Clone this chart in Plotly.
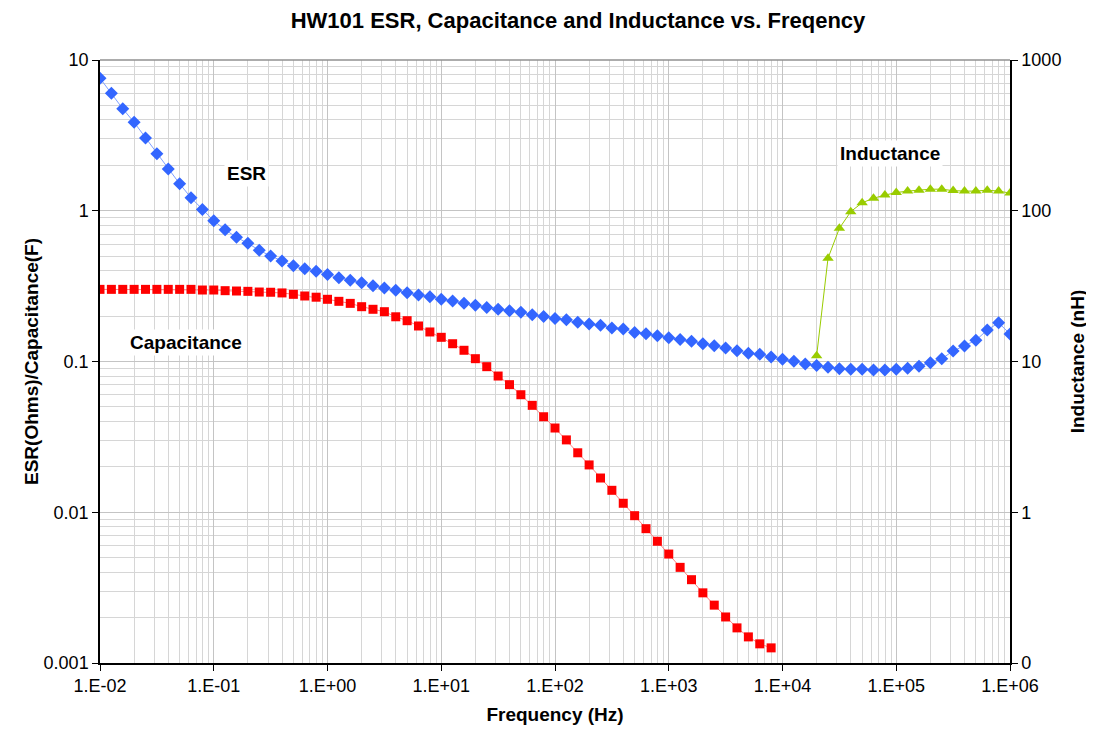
import numpy as np
import plotly.graph_objects as go

# Frequencies: 10 points per decade from 1e-2 to 1e6
freq_exp = [k / 10 for k in range(-20, 61)]
freq = [10 ** e for e in freq_exp]

esr = [7.57, 6.01, 4.75, 3.86, 3.04, 2.39, 1.89, 1.51, 1.22, 1.02,
       0.859, 0.748, 0.667, 0.608, 0.547, 0.501, 0.464, 0.432, 0.413, 0.397,
       0.377, 0.360, 0.346, 0.333, 0.318, 0.307, 0.297, 0.286, 0.276, 0.269,
       0.259, 0.252, 0.243, 0.236, 0.228, 0.222, 0.217, 0.212, 0.204, 0.199,
       0.193, 0.189, 0.182, 0.177, 0.174, 0.167, 0.164, 0.156, 0.153, 0.148,
       0.144, 0.140, 0.136, 0.131, 0.127, 0.123, 0.118, 0.1133, 0.1116, 0.1071,
       0.1035, 0.1003, 0.0963, 0.0939, 0.0916, 0.0896, 0.0888, 0.0888, 0.0879, 0.0879,
       0.0888, 0.0901, 0.0929, 0.0982, 0.1044, 0.1174, 0.1267, 0.1383, 0.1618, 0.1807,
       0.1521]

capacitance = [0.301, 0.301, 0.301, 0.301, 0.301, 0.301, 0.301, 0.301, 0.301, 0.298,
               0.298, 0.295, 0.2935, 0.292, 0.289, 0.288, 0.285, 0.279, 0.272, 0.267,
               0.2586, 0.2507, 0.243, 0.231, 0.222, 0.214, 0.198, 0.1865, 0.172, 0.157,
               0.1447, 0.1312, 0.1187, 0.1044, 0.0924, 0.0801, 0.0702, 0.0602, 0.0512, 0.0430,
               0.0362, 0.0302, 0.0248, 0.0206, 0.01687, 0.01398, 0.01147, 0.00949, 0.00778, 0.00642,
               0.00528, 0.00431, 0.00357, 0.00292, 0.00242, 0.00202, 0.00171, 0.00149, 0.00134, 0.00126]

inductance = [10.9, 48.4, 76.5, 98.6, 113, 121, 127, 132, 135, 137,
              139, 139, 136, 135, 135, 137, 135, 131]

freq_cap = freq[:len(capacitance)]
freq_ind = freq[-len(inductance):]

x_tickvals = [1e-2, 1e-1, 1e0, 1e1, 1e2, 1e3, 1e4, 1e5, 1e6]
x_ticktext = ["1.E-02", "1.E-01", "1.E+00", "1.E+01", "1.E+02", "1.E+03", "1.E+04", "1.E+05", "1.E+06"]
y_tickvals = [0.001, 0.01, 0.1, 1, 10]
y_ticktext = ["0.001", "0.01", "0.1", "1", "10"]
y2_tickvals = [0.1, 1, 10, 100, 1000]
y2_ticktext = ["0", "1", "10", "100", "1000"]

FONT = "Liberation Sans, Arial, sans-serif"

W, H = 1086, 723  # page body has an 8px margin

fig = go.Figure()
fig.add_trace(go.Scatter(
    x=freq, y=esr, mode="lines+markers", name="ESR",
    line=dict(color="#7f9fff", width=1),
    marker=dict(symbol="diamond", size=10, color="#3366ff", line=dict(width=0)),
))
fig.add_trace(go.Scatter(
    x=freq_cap, y=capacitance, mode="lines+markers", name="Capacitance",
    line=dict(color="#ff8080", width=1),
    marker=dict(symbol="square", size=9, color="#ff0000", line=dict(width=0)),
))
fig.add_trace(go.Scatter(
    x=freq_ind, y=inductance, mode="lines+markers", name="Inductance",
    yaxis="y2",
    line=dict(color="#99cc00", width=1),
    marker=dict(symbol="triangle-up", size=10, color="#99cc00", line=dict(width=0)),
))

grid_major = "#c4c4c4"
grid_minor = "#d6d6d6"

fig.update_layout(
    width=W, height=H,
    margin=dict(l=92, r=84, t=52, b=68),
    paper_bgcolor="white", plot_bgcolor="white",
    showlegend=False,
    font=dict(family=FONT, color="black"),
    title=dict(text="<b>HW101 ESR, Capacitance and Inductance vs. Freqency</b>",
               x=570 / W, xanchor="center", y=1 - 12 / H, yanchor="middle",
               font=dict(size=22, family=FONT)),
    xaxis=dict(
        type="log", range=[-2, 6], automargin=False,
        tickvals=x_tickvals, ticktext=x_ticktext,
        tickfont=dict(size=18), ticks="outside", ticklen=6, tickcolor="black",
        showline=True, linecolor="black", linewidth=1.5,
        showgrid=True, gridcolor=grid_major, gridwidth=1,
        minor=dict(dtick="D1", showgrid=True, gridcolor=grid_minor, gridwidth=1, ticks=""),
        zeroline=False,
        title=dict(text="<b>Frequency (Hz)</b>", font=dict(size=19), standoff=12),
    ),
    yaxis=dict(
        type="log", range=[-3, 1], automargin=False,
        tickvals=y_tickvals, ticktext=y_ticktext,
        tickfont=dict(size=18), ticks="outside", ticklen=6, tickcolor="black",
        showline=True, linecolor="black", linewidth=1.5,
        showgrid=True, gridcolor=grid_major, gridwidth=1,
        minor=dict(dtick="D1", showgrid=True, gridcolor=grid_minor, gridwidth=1, ticks=""),
        zeroline=False,
        title=dict(text="<b>ESR(Ohms)/Capacitance(F)</b>", font=dict(size=19), standoff=0),
    ),
    yaxis2=dict(
        type="log", range=[-1, 3], overlaying="y", side="right", automargin=False,
        tickvals=y2_tickvals, ticktext=y2_ticktext,
        tickfont=dict(size=18), ticks="outside", ticklen=6, tickcolor="black",
        showline=True, linecolor="black", linewidth=1.5,
        showgrid=False, zeroline=False,
        title=dict(text="<b>Inductance (nH)</b>", font=dict(size=19), standoff=10),
    ),
)

# top border of the plot area
fig.add_shape(type="line", xref="paper", yref="paper", x0=0, x1=1, y0=1, y1=1,
              line=dict(color="#909090", width=1.5))

annots = [("ESR", 10 ** -0.716, 10 ** 0.25),
          ("Capacitance", 10 ** -1.244, 10 ** -0.871),
          ("Inductance", 10 ** 4.945, 10 ** 0.383)]
for txt, ax_, ay_ in annots:
    fig.add_annotation(x=np.log10(ax_), y=np.log10(ay_), xref="x", yref="y",
                       text=f"<b>{txt}</b>", showarrow=False,
                       font=dict(size=19, family=FONT, color="black"),
                       bgcolor="white", borderpad=2)

fig.write_html("out.html")
